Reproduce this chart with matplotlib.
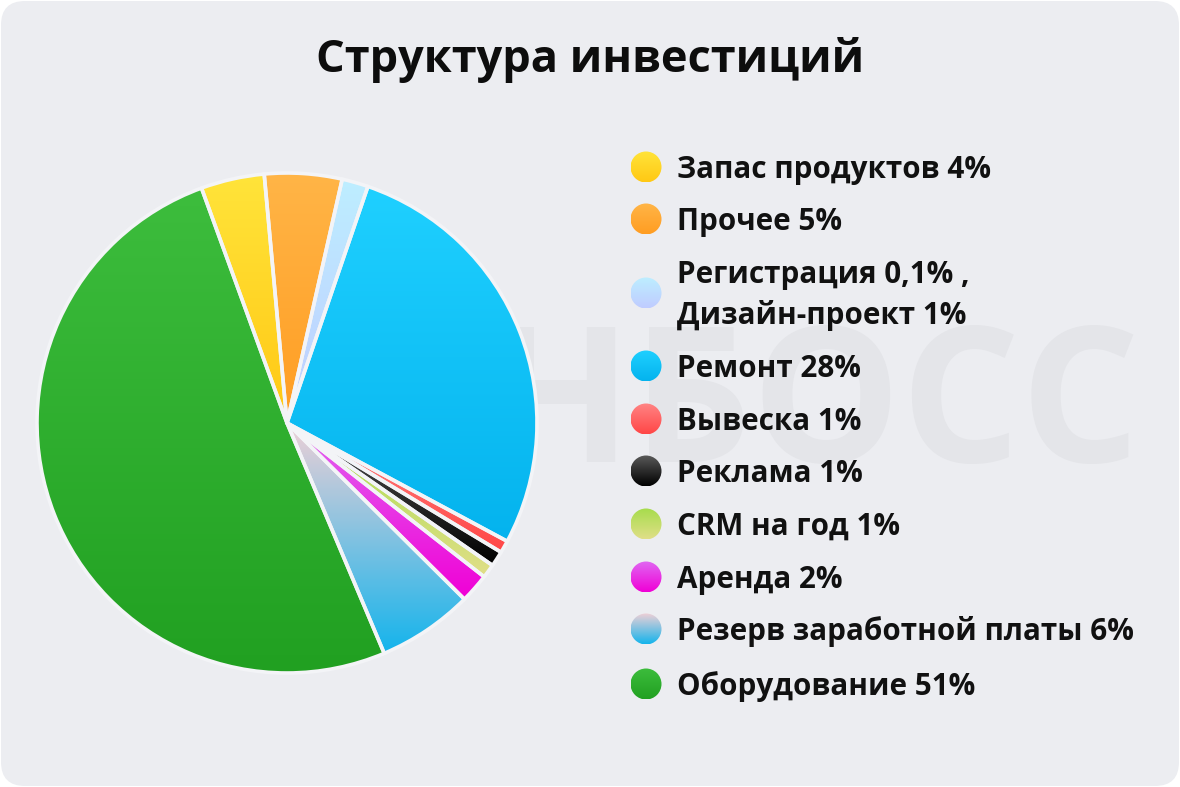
import numpy as np
import matplotlib
matplotlib.use("Agg")
import matplotlib.pyplot as plt
from matplotlib.patches import FancyBboxPatch, Circle
from matplotlib.colors import LinearSegmentedColormap

# ---------------- data ----------------
title = "Структура инвестиций"
labels = [
    "Запас продуктов 4%",
    "Прочее 5%",
    "Регистрация 0,1% ,\nДизайн-проект 1%",
    "Ремонт 28%",
    "Вывеска 1%",
    "Реклама 1%",
    "CRM на год 1%",
    "Аренда 2%",
    "Резерв заработной платы 6%",
    "Оборудование 51%",
]
values = [4.1, 5.0, 1.7, 27.6, 0.8, 1.0, 0.9, 1.9, 6.2, 50.8]
top_colors = ["#ffe43a", "#ffb547", "#bdeeff", "#1fd0ff", "#ff8585",
              "#5a5a5a", "#a6dc4c", "#e068f2", "#f0d0d6", "#3dbd3d"]
bottom_colors = ["#ffc814", "#ff9d22", "#c0ccff", "#04b3ee", "#ff4646",
                 "#000000", "#e0df88", "#f000d6", "#14b4ec", "#21a021"]
watermark = "ФИНБОСС"

# ---------------- figure ----------------
plt.rcParams["font.family"] = ["Open Sans", "DejaVu Sans"]
W, H = 1180, 787
fig = plt.figure(figsize=(W / 100, H / 100), dpi=100)
fig.patch.set_facecolor("white")

ax = fig.add_axes([0, 0, 1, 1])
ax.set_facecolor("none")
ax.axis("off")

bg = FancyBboxPatch((1, 1), W - 2, H - 2, boxstyle="round,pad=0,rounding_size=24",
                    facecolor="#ecedf1", edgecolor="none", zorder=0)
ax.add_patch(bg)

def Y(y):
    return H - y

def grad_fill(patch, c_top, c_bot, z):
    bb = patch.get_path().get_extents(patch.get_patch_transform())
    cmap = LinearSegmentedColormap.from_list("g", [c_top, c_bot])
    g = np.linspace(0, 1, 256).reshape(-1, 1)
    im = ax.imshow(g, cmap=cmap, extent=(bb.x0, bb.x1, bb.y0, bb.y1),
                   origin="upper", aspect="auto", zorder=z, interpolation="bilinear")
    im.set_clip_path(patch)
    return im

# watermark (mostly hidden behind the pie)
ax.text(1141, Y(462), watermark, ha="right", va="baseline", fontsize=135,
        fontweight="bold", color="#e4e5e9", zorder=0.5)

# pie
cx, cy, R = 287, Y(423), 250
wedges, _ = ax.pie(values, center=(cx, cy), radius=R, startangle=110,
                   counterclock=False, frame=True,
                   wedgeprops=dict(edgecolor="#f3f4f7", linewidth=2.6))
for w, ct, cb in zip(wedges, top_colors, bottom_colors):
    w.set_facecolor("none")
    w.set_zorder(3)
    grad_fill(w, ct, cb, 2)

# legend
rows_y = [167, 219, 293, 366, 419, 471, 524, 577, 629, 684]
for lab, yy, ct, cb in zip(labels, rows_y, top_colors, bottom_colors):
    c = Circle((646, Y(yy)), 15.5, facecolor="none", edgecolor="none", zorder=3)
    ax.add_patch(c)
    grad_fill(c, ct, cb, 2)
    lines = lab.split("\n")
    if len(lines) == 1:
        base = [yy + 11]
    else:
        base = [yy - 10, yy + 31]
    for ln, b in zip(lines, base):
        ax.text(677, Y(b), ln, ha="left", va="baseline", fontsize=21.3,
                fontweight="bold", color="#111111", zorder=4)

# title
ax.text(590, Y(60), title, ha="center", va="center", fontsize=32.5,
        fontweight="bold", color="#0d0d0d", zorder=4)

ax.set_xlim(0, W)
ax.set_ylim(0, H)
ax.set_aspect("auto")
ax.axis("off")

fig.savefig("out.png", dpi=100, facecolor="white")
